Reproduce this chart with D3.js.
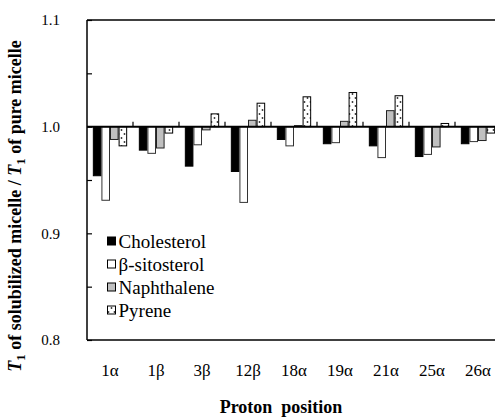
<!DOCTYPE html>
<html>
<head>
<meta charset="utf-8">
<script src="https://cdn.jsdelivr.net/npm/d3@7"></script>
<style>
  body { margin: 0; background: #fff; }
  svg text { fill: #000; }
</style>
</head>
<body>
<script>
const categories = ["1α", "1β", "3β", "12β", "18α", "19α", "21α", "25α", "26α"];
const seriesNames = ["Cholesterol", "β-sitosterol", "Naphthalene", "Pyrene"];
const cholesterol = [0.954, 0.978, 0.963, 0.958, 0.988, 0.984, 0.982, 0.972, 0.984];
const sitosterol  = [0.931, 0.975, 0.983, 0.929, 0.982, 0.985, 0.971, 0.974, 0.986];
const naphthalene = [0.988, 0.980, 0.997, 1.006, 1.001, 1.005, 1.015, 0.981, 0.987];
const pyrene      = [0.982, 0.994, 1.012, 1.022, 1.028, 1.032, 1.029, 1.003, 0.994];
const yTicks = [0.8, 0.9, 1.0, 1.1];

const FONT = "'Times New Roman', 'Liberation Serif', Times, serif";

const drawViz = () => {
	const width = 495;
	const height = 419;
	const margin = {top: 20, left: 87, bottom: 79, right: -6};

	const svg = d3.select('body')
		.append('svg')
		.attr('width', width)
		.attr('height', height)
		.style('font-family', FONT);

	// dotted fill for pyrene
	const pat = svg.append('defs').append('pattern')
		.attr('id', 'dots')
		.attr('patternUnits', 'userSpaceOnUse')
		.attr('width', 6).attr('height', 8);
	pat.append('rect').attr('width', 6).attr('height', 8).attr('fill', '#fff');
	pat.append('circle').attr('cx', 1.5).attr('cy', 2).attr('r', 0.9).attr('fill', '#333');
	pat.append('circle').attr('cx', 4.5).attr('cy', 6).attr('r', 0.9).attr('fill', '#333');

	const fills = ['#000', '#fff', '#c0c0c0', 'url(#dots)'];
	const strokes = ['#000', '#333', '#222', '#000'];
	const values = [cholesterol, sitosterol, naphthalene, pyrene];

	const x0 = d3.scaleBand()
		.domain(categories)
		.range([margin.left, width - margin.right])
		.padding(0);

	const x1 = d3.scaleBand()
		.domain(seriesNames)
		.range([0, x0.bandwidth()])
		.paddingInner(0)
		.paddingOuter(0.68);

	const y = d3.scaleLinear()
		.domain([0.8, 1.1])
		.range([height - margin.bottom, margin.top]);

	// bars
	const data = [];
	categories.forEach((c, i) => {
		seriesNames.forEach((s, j) => data.push({cat: c, s: s, j: j, v: values[j][i]}));
	});

	svg.append('g').selectAll('rect')
		.data(data)
		.enter().append('rect')
		.attr('x', d => x0(d.cat) + x1(d.s) + 0.5)
		.attr('width', x1.bandwidth() - 1)
		.attr('y', d => Math.min(y(d.v), y(1.0)))
		.attr('height', d => Math.abs(y(d.v) - y(1.0)))
		.attr('fill', d => fills[d.j])
		.attr('stroke', d => strokes[d.j])
		.attr('stroke-width', 1);

	// frame: left, top, bottom
	const frame = svg.append('g').attr('stroke', '#000').attr('stroke-width', 1.5);
	frame.append('line')
		.attr('x1', margin.left).attr('x2', margin.left)
		.attr('y1', y(1.1)).attr('y2', y(0.8));
	frame.append('line')
		.attr('x1', margin.left).attr('x2', width)
		.attr('y1', y(1.1)).attr('y2', y(1.1));
	frame.append('line')
		.attr('x1', margin.left).attr('x2', width)
		.attr('y1', y(0.8)).attr('y2', y(0.8));

	// y axis: inward ticks every 0.05
	const yAxis = svg.append('g')
		.attr('transform', `translate(${margin.left},0)`)
		.call(d3.axisRight(y).tickValues(d3.range(0.8, 1.1001, 0.05)).tickSize(5).tickFormat(''));
	yAxis.select('.domain').remove();
	yAxis.selectAll('line').attr('stroke', '#000').attr('stroke-width', 1.2);

	svg.append('g').selectAll('text')
		.data(yTicks)
		.enter().append('text')
		.attr('x', 60)
		.attr('y', d => y(d))
		.attr('dy', '0.35em')
		.attr('text-anchor', 'end')
		.style('font-size', '15px')
		.text(d => d.toFixed(1));

	// baseline at 1.0 with upward ticks between categories
	svg.append('line')
		.attr('x1', margin.left).attr('x2', width)
		.attr('y1', y(1.0)).attr('y2', y(1.0))
		.attr('stroke', '#000').attr('stroke-width', 2);

	svg.append('g').selectAll('line')
		.data(categories.slice(1))
		.enter().append('line')
		.attr('x1', d => x0(d)).attr('x2', d => x0(d))
		.attr('y1', y(1.0)).attr('y2', y(1.0) - 5)
		.attr('stroke', '#000').attr('stroke-width', 1.2);

	// category labels
	svg.append('g').selectAll('text')
		.data(categories)
		.enter().append('text')
		.attr('x', d => x0(d) + x0.bandwidth() / 2)
		.attr('y', 376)
		.attr('text-anchor', 'middle')
		.style('font-size', '17px')
		.text(d => d);

	// axis titles
	svg.append('text')
		.attr('x', 281)
		.attr('y', 413)
		.attr('text-anchor', 'middle')
		.style('font-size', '18px')
		.style('font-weight', 'bold')
		.style('white-space', 'pre')
		.text('Proton  position');

	const yt = svg.append('text')
		.attr('transform', 'translate(21,206) rotate(-90)')
		.attr('text-anchor', 'middle')
		.style('font-size', '18px')
		.style('font-weight', 'bold');
	[['T', 'i'], ['1', 's'], [' of solubilized micelle / ', 'b'], ['T', 'i'], ['1', 's'], [' of pure micelle', 'b']]
		.forEach(([t, k]) => {
			const ts = yt.append('tspan').text(t);
			if (k === 'i') ts.style('font-style', 'italic');
			if (k === 's') ts.attr('dy', 4).style('font-size', '13px');
			if (k === 'b') ts.attr('dy', -4);
		});

	// legend
	const legend = svg.append('g').selectAll('g')
		.data(seriesNames)
		.enter().append('g')
		.attr('transform', (d, i) => `translate(107,${241 + i * 23})`);
	legend.append('rect')
		.attr('x', 0.5).attr('y', -4)
		.attr('width', 8).attr('height', 8)
		.attr('fill', (d, i) => fills[i])
		.attr('stroke', '#000').attr('stroke-width', 1);
	legend.append('text')
		.attr('x', 11.5)
		.attr('dy', '0.35em')
		.style('font-size', '19px')
		.text(d => d);
};

drawViz();
</script>
</body>
</html>
